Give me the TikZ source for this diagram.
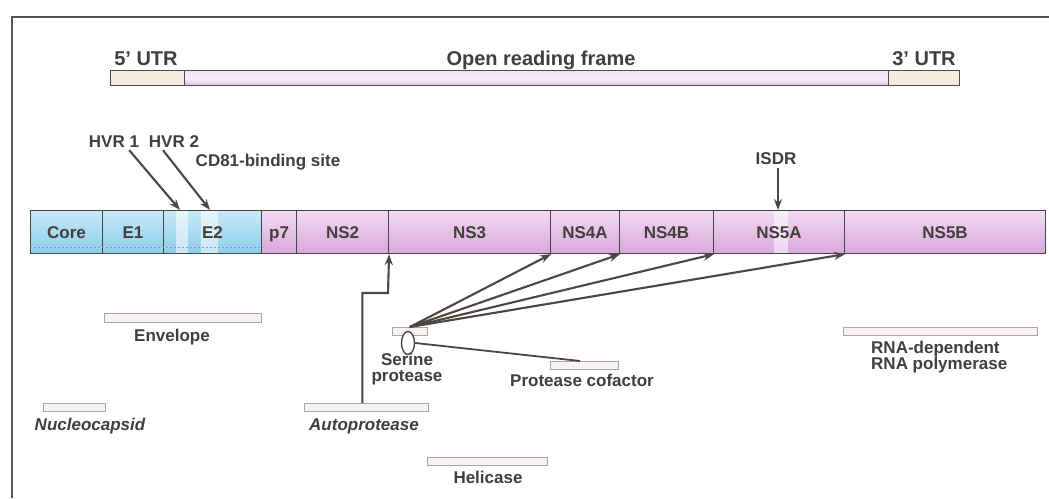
\documentclass[tikz,border=0pt]{standalone}
\usepackage{fontspec}
\setmainfont{Liberation Sans}
\usetikzlibrary{arrows.meta,shapes.geometric}
\definecolor{txt}{RGB}{66,62,60}
\definecolor{arrowc}{RGB}{78,70,66}
\definecolor{framec}{RGB}{90,82,78}
\definecolor{bluetop}{RGB}{200,232,246}
\definecolor{bluebot}{RGB}{138,205,236}
\definecolor{pinktop}{RGB}{242,218,242}
\definecolor{pinkbot}{RGB}{216,168,218}
\definecolor{utrc}{RGB}{246,236,222}
\definecolor{orftop}{RGB}{244,226,244}
\definecolor{orfbot}{RGB}{226,190,228}
\definecolor{dbarfill}{RGB}{248,242,245}
\newcommand{\toplabfont}{\fontsize{20}{24}\bfseries\selectfont}
\newcommand{\labfont}{\fontsize{17}{20}\bfseries\selectfont}
\begin{document}
\begin{tikzpicture}[x=1pt,y=-1pt,
  seg/.style={draw=black!72, line width=1.1pt, anchor=north west, minimum height=43pt,
    inner sep=0pt, font=\labfont, text=txt, text height=12.5pt, text depth=0pt},
  blueseg/.style={seg, top color=bluetop, bottom color=bluebot},
  pinkseg/.style={seg, top color=pinktop, bottom color=pinkbot},
  topbox/.style={draw=black!70, line width=1.1pt, anchor=north west, minimum height=15pt, inner sep=0pt},
  dbar/.style={draw=black!35, fill=dbarfill, line width=0.7pt, anchor=north west, inner sep=0pt},
  toplab/.style={font=\toplabfont, text=txt, inner sep=0pt, anchor=base},
  lab/.style={font=\labfont, text=txt, inner sep=0pt, anchor=base},
  arr/.style={draw=arrowc, line width=2.1pt, -{Stealth[length=11pt,width=8pt]}},
  stripe/.style={fill=white, opacity=0.55}
]
\useasboundingbox (0,0) rectangle (1049,498);
\fill[white] (0,0) rectangle (1049,498);
% frame
\draw[framec, line width=2pt] (12,498) -- (12,17) -- (1049,17);

% top genome bar
\node[topbox, fill=utrc, minimum width=74pt] (utr5) at (110,70) {};
\node[topbox, top color=orftop, bottom color=orfbot, middle color=orftop!60, minimum width=704pt] (orf) at (184,70) {};
\node[topbox, fill=utrc, minimum width=71pt] (utr3) at (888,70) {};
\node[toplab] (utr5l) at (146,65) {5’ UTR};
\node[toplab] (orfl) at (541,65) {Open reading frame};
\node[toplab] (utr3l) at (924,65) {3’ UTR};

% polyprotein segments
\node[blueseg, minimum width=72pt] (core) at (30,210) {Core};
\node[blueseg, minimum width=61pt] (e1) at (102,210) {E1};
\node[blueseg, minimum width=98pt,
  path picture={\fill[stripe] ([xshift=12pt]path picture bounding box.north west) rectangle ([xshift=24pt]path picture bounding box.south west);
                \fill[stripe] ([xshift=37pt]path picture bounding box.north west) rectangle ([xshift=54pt]path picture bounding box.south west);}
  ] (e2) at (163,210) {E2};
\node[pinkseg, minimum width=35pt] (p7) at (261,210) {p7};
\node[pinkseg, minimum width=92pt] (ns2) at (296,210) {NS2};
\node[pinkseg, minimum width=162pt] (ns3) at (388,210) {NS3};
\node[pinkseg, minimum width=69pt] (ns4a) at (550,210) {NS4A};
\node[pinkseg, minimum width=94pt] (ns4b) at (619,210) {NS4B};
\node[pinkseg, minimum width=131pt,
  path picture={\fill[stripe] ([xshift=60pt]path picture bounding box.north west) rectangle ([xshift=74pt]path picture bounding box.south west);}
  ] (ns5a) at (713,210) {NS5A};
\node[pinkseg, minimum width=201pt] (ns5b) at (844,210) {NS5B};
\draw[black!40, line width=0.7pt, dash pattern=on 2pt off 2pt] ([yshift=7pt]core.south west) -- ([yshift=7pt]e2.south east);

% upper labels and arrows
\node[lab] (hvr1) at (114,147) {HVR 1};
\node[lab] (hvr2) at (174,147) {HVR 2};
\node[lab] (cd81) at (268,166) {CD81-binding site};
\node[lab] (isdr) at (776,164) {ISDR};
\coordinate (hvr1pt) at (180,210);
\coordinate (hvr2pt) at (210,210);
\coordinate (isdrpt) at (778,210);
\draw[arr] ([xshift=-10pt,yshift=-3pt]hvr1.south east) -- (hvr1pt);
\draw[arr] ([xshift=-11pt,yshift=-3pt]hvr2.south) -- (hvr2pt);
\draw[arr] ([xshift=2pt,yshift=-4pt]isdr.south) -- (isdrpt);

% domain bars and labels
\node[dbar, minimum width=157pt, minimum height=9pt] (envbar) at (104,313) {};
\node[lab] (envl) at (172,341) {Envelope};
\node[dbar, minimum width=62pt, minimum height=8pt] (ncbar) at (43,403) {};
\node[lab] (ncl) at (90,430) {\itshape Nucleocapsid};
\node[dbar, minimum width=124pt, minimum height=8pt] (autobar) at (304,403) {};
\node[lab] (autol) at (364,430) {\itshape Autoprotease};
\node[dbar, minimum width=35pt, minimum height=8pt] (spbar) at (392,327) {};
\node[draw=arrowc, line width=1.4pt, ellipse, fill=white, minimum width=13pt, minimum height=23pt, inner sep=0pt] (spell) at (408,343) {};
\node[lab] (spl1) at (407,365) {Serine};
\node[lab] (spl2) at (407,381) {protease};
\node[dbar, minimum width=68pt, minimum height=8pt] (cofbar) at (550,361) {};
\node[lab] (cofl) at (582,386) {Protease cofactor};
\node[dbar, minimum width=120pt, minimum height=8pt] (helbar) at (427,457) {};
\node[lab] (hell) at (488,483) {Helicase};
\node[dbar, minimum width=194pt, minimum height=8pt] (polbar) at (843,327) {};
\node[lab, anchor=base west] (poll1) at (871,353) {RNA-dependent};
\node[lab, anchor=base west] (poll2) at (871,369) {RNA polymerase};

% autoprotease cleavage
\coordinate (autostep) at (388,293);
\draw[arr] ([xshift=-4pt]autobar.north) |- (autostep) -- (ns2.south east);

% serine protease cleavages
\draw[arr] (spbar.north) -- (ns3.south east);
\draw[arr] (spbar.north) -- (ns4a.south east);
\draw[arr] (spbar.north) -- (ns4b.south east);
\draw[arr] (spbar.north) -- (ns5a.south east);
\draw[draw=arrowc, line width=1.8pt] (spell.east) -- ([xshift=30pt]cofbar.north west);
\end{tikzpicture}
\end{document}
